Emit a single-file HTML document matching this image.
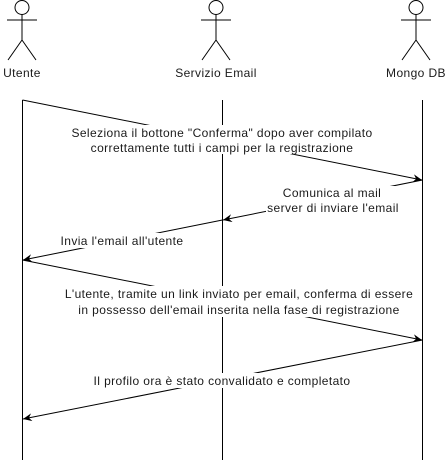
<!DOCTYPE html>
<html><head><meta charset="utf-8"><style>
html,body{margin:0;padding:0;background:#fff;width:446px;height:462px;overflow:hidden}
svg{display:block}
text{font-family:"Liberation Sans",Arial,sans-serif;font-size:12px;letter-spacing:0.4px;fill:#1a1a1a}
</style></head><body>
<svg width="446" height="462" viewBox="0 0 446 462">
<defs>
<marker id="a" markerWidth="10" markerHeight="10" refX="9" refY="4" orient="auto" markerUnits="userSpaceOnUse">
<path d="M0,0 L9,4 L0,8 L3,4 Z" fill="#000"/>
</marker>
</defs>
<g stroke="#000" fill="none" stroke-width="1">
<g transform="translate(22,0)"><circle cx="0" cy="7.5" r="7"/><path d="M0,14.5V40M-15,20H15M0,40L-14,60M0,40L14,60"/></g>
<g transform="translate(216,0)"><circle cx="0" cy="7.5" r="7"/><path d="M0,14.5V40M-15,20H15M0,40L-14,60M0,40L14,60"/></g>
<g transform="translate(416,0)"><circle cx="0" cy="7.5" r="7"/><path d="M0,14.5V40M-15,20H15M0,40L-14,60M0,40L14,60"/></g>
<path d="M22.5,100V460M222.5,100V460M422.5,100V460"/>
<line x1="22.5" y1="100" x2="422" y2="180" marker-end="url(#a)"/>
<line x1="422.5" y1="180" x2="223" y2="220" marker-end="url(#a)"/>
<line x1="222.5" y1="220" x2="23" y2="260" marker-end="url(#a)"/>
<line x1="22.5" y1="260" x2="422" y2="340" marker-end="url(#a)"/>
<line x1="422.5" y1="340" x2="23" y2="419" marker-end="url(#a)"/>
</g>
<g fill="#fff">
<rect x="66" y="125" width="312" height="29"/>
<rect x="266" y="186" width="138" height="29"/>
<rect x="58" y="233" width="130" height="15"/>
<rect x="60" y="286" width="360" height="31"/>
<rect x="90" y="373" width="266" height="15"/>
</g>
<g text-anchor="middle">
<text x="222" y="137">Seleziona il bottone "Conferma" dopo aver compilato</text>
<text x="222" y="152">correttamente tutti i campi per la registrazione</text>
<text x="332" y="197">Comunica al mail</text>
<text x="333" y="212">server di inviare l'email</text>
<text x="122" y="245">Invia l'email all'utente</text>
<text x="239" y="298">L'utente, tramite un link inviato per email, conferma di essere</text>
<text x="239" y="314">in possesso dell'email inserita nella fase di registrazione</text>
<text x="222" y="385">Il profilo ora è stato convalidato e completato</text>
<text x="22" y="77">Utente</text>
<text x="216" y="77">Servizio Email</text>
<text x="416" y="77">Mongo DB</text>
</g>
</svg>
</body></html>
